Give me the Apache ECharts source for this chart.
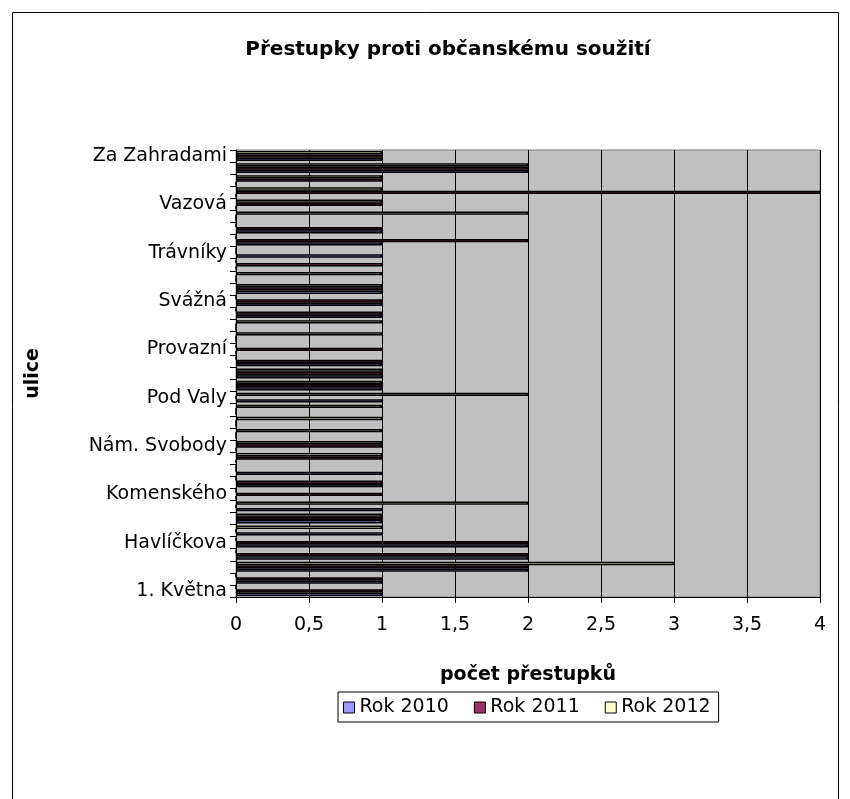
<!DOCTYPE html>
<html>
<head>
<meta charset="utf-8">
<script src="https://cdn.jsdelivr.net/npm/echarts@6/dist/echarts.min.js"></script>
<style>
html,body{margin:0;padding:0;background:#fff;}
#chart{width:850px;height:799px;}
</style>
</head>
<body>
<div id="chart"></div>
<script>
const categories = [
  "1. Května","28. října","Bezručova","Dlouhá","Havlíčkova","Husova","Jiráskova","Kollárova",
  "Komenského","Krátká","Lidická","Masarykova","Nám. Svobody","Nádražní","Nerudova","Palackého",
  "Pod Valy","Polní","Potoční","Pražská","Provazní","Příčná","Sadová","Smetanova",
  "Svážná","Školní","Tomkova","Tovární","Trávníky","Tyršova","U Mlýna","Úzká",
  "Vazová","Větrná","Vrchlického","Wolkerova","Za Zahradami"
];
const rok2010 = [1,1,2,2,2,1,1,1,0,1,1,0,0,0,0,0,1,1,1,1,0,0,0,1,1,1,0,0,1,1,1,0,0,0,0,2,1];
const rok2011 = [1,1,2,2,2,0,1,0,1,1,0,1,1,0,0,0,0,1,1,1,1,0,0,1,1,1,0,1,0,2,1,0,1,4,1,2,1];
const rok2012 = [0,0,3,0,0,1,1,2,0,0,0,1,1,1,1,1,2,1,1,0,0,1,1,0,0,1,1,0,0,0,0,2,1,1,1,2,1];
const seriesNames = ["Rok 2010","Rok 2011","Rok 2012"];
const seriesColors = ["#9999FF","#993366","#FFFFCC"];

const FONT = "DejaVu Sans, Liberation Sans, Arial, sans-serif";
const chart = echarts.init(document.getElementById('chart'), null, {renderer:'canvas'});
const values = [rok2010, rok2011, rok2012];
// ECharts places the first series at the top of a horizontal band; Excel puts it at the bottom.
const order = [2,1,0];
chart.setOption({
  animation:false,
  backgroundColor:'#ffffff',
  title:{
    text:'Přestupky proti občanskému soužití',
    left:443, top:35, textAlign:'center',
    textStyle:{fontFamily:FONT,fontWeight:'bold',fontSize:20,color:'#000'}
  },
  graphic:[{
    type:'rect', shape:{x:12.5,y:12.5,width:826,height:800},
    style:{fill:'none',stroke:'#000',lineWidth:1}, silent:true, z:-10
  }],
  legend:{
    data:seriesNames,
    left:338, top:692,
    orient:'horizontal',
    backgroundColor:'#fff',
    borderColor:'#000', borderWidth:1,
    padding:[6,8,5,5],
    itemWidth:11, itemHeight:11, itemGap:25,
    icon:'rect',
    textStyle:{fontFamily:FONT,fontSize:19,color:'#000',padding:[0,0,0,0]},
    itemStyle:{borderColor:'#000',borderWidth:1}
  },
  grid:{
    left:236, right:30, top:150, bottom:202,
    show:true, backgroundColor:'#C0C0C0', borderColor:'#808080', borderWidth:1,
    containLabel:false
  },
  xAxis:{
    type:'value', min:0, max:4, interval:0.5,
    name:'počet přestupků', nameLocation:'middle', nameGap:69,
    nameTextStyle:{fontFamily:FONT,fontWeight:'bold',fontSize:19,color:'#000'},
    axisLine:{show:true,lineStyle:{color:'#000',width:1}},
    axisTick:{show:true,length:6,inside:false,lineStyle:{color:'#000'}},
    axisLabel:{fontFamily:FONT,fontSize:19,color:'#000',margin:19,
      formatter:function(v){return String(v).replace('.',',');}},
    splitLine:{show:true,lineStyle:{color:'#000',width:1}}
  },
  yAxis:{
    type:'category', data:categories,
    name:'ulice', nameLocation:'middle', nameGap:193, nameRotate:90,
    nameTextStyle:{fontFamily:FONT,fontWeight:'bold',fontSize:19,color:'#000'},
    axisLine:{show:true,lineStyle:{color:'#000',width:1}},
    axisTick:{show:true,length:6,interval:0,alignWithLabel:false,lineStyle:{color:'#000'}},
    axisLabel:{interval:3,fontFamily:FONT,fontSize:19,color:'#000',margin:9},
    splitLine:{show:false}
  },
  series: order.map(function(i){
    return {
      name:seriesNames[i], type:'bar', data:values[i],
      barGap:'0%', barCategoryGap:'18%',
      itemStyle:{color:seriesColors[i],borderColor:'#000',borderWidth:1.5},
      emphasis:{disabled:true}
    };
  })
});
</script>
</body>
</html>
